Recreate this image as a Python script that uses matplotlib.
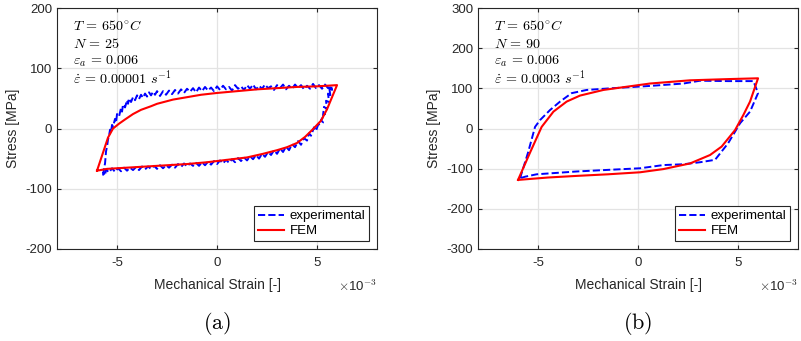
# Stress-strain hysteresis loops, experimental vs FEM
import matplotlib
matplotlib.use("Agg")
import matplotlib.pyplot as plt

plt.rcParams["font.family"] = ["Liberation Sans", "DejaVu Sans"]
plt.rcParams["mathtext.fontset"] = "cm"
plt.rcParams["axes.unicode_minus"] = False

# ---- panel (a): N = 25, strain rate 1e-5 (strain in units of 1e-3) ----
exp_a_strain = [-5.7, -5.65, -5.6, -5.55, -5.5, -5.45, -5.4, -5.35, -5.3, -5.25,
                -5.2, -5.1, -5.05, -5.0, -4.9, -4.8, -4.75, -4.7, -4.6, -4.5,
                -4.45, -4.4, -4.3, -4.2, -4.1, -4.0, -3.9, -3.8, -3.7, -3.6,
                -3.5, -3.4, -3.3, -3.2, -3.1, -3.0,
                -2.85, -2.7, -2.55, -2.4, -2.25, -2.1, -1.95, -1.8, -1.65, -1.5,
                -1.35, -1.2, -1.05, -0.9, -0.75, -0.6, -0.45, -0.3, -0.15, 0.0,
                0.15, 0.3, 0.45, 0.6, 0.75, 0.9, 1.05, 1.2, 1.35, 1.5,
                1.65, 1.8, 1.95, 2.1, 2.25, 2.4, 2.55, 2.7, 2.85, 3.0,
                3.15, 3.3, 3.45, 3.6, 3.75, 3.9, 4.05, 4.2, 4.35, 4.5,
                4.65, 4.8, 4.95, 5.1, 5.25, 5.4, 5.55, 5.7,
                5.75, 5.6, 5.68, 5.55, 5.6, 5.45, 5.5, 5.35, 5.3, 5.4,
                5.2, 5.3, 5.05, 4.95, 4.85, 4.7, 4.6, 4.5, 4.35, 4.2,
                4.05, 3.9, 3.75, 3.6, 3.45, 3.3, 3.15, 3.0, 2.85, 2.7,
                2.55, 2.4, 2.25, 2.1, 1.95, 1.8, 1.65, 1.5, 1.35, 1.2,
                1.05, 0.9, 0.75, 0.6, 0.45, 0.3, 0.15, 0.0, -0.15, -0.3,
                -0.45, -0.6, -0.75, -0.9, -1.05, -1.2, -1.35, -1.5, -1.65, -1.8,
                -1.95, -2.1, -2.25, -2.4, -2.55, -2.7, -2.85, -3.0, -3.15, -3.3,
                -3.45, -3.6, -3.75, -3.9, -4.05, -4.2, -4.35, -4.5, -4.65, -4.8,
                -4.95, -5.1, -5.25, -5.4, -5.55, -5.6, -5.7]
exp_a_stress = [-78, -66, -58, -38, -30, -18, -12, -2, -6, 6,
                3, 16, 10, 24, 20, 34, 28, 40, 35, 47,
                41, 50, 44, 52, 47, 55, 49, 56, 51, 58,
                53, 60, 55, 61, 56, 62,
                54, 62, 56, 63, 57, 64, 58, 65, 59, 66,
                61, 67, 60, 68, 62, 69, 63, 68, 62, 70,
                64, 71, 65, 69, 63, 72, 66, 70, 64, 72,
                66, 73, 65, 71, 66, 73, 67, 70, 64, 72,
                67, 73, 65, 71, 66, 73, 67, 72, 65, 71,
                66, 74, 67, 72, 66, 73, 67, 71,
                64, 70, 52, 58, 44, 46, 32, 36, 22, 24,
                14, 10, 6, -4, 2, -12, -8, -20, -16, -27,
                -21, -31, -26, -36, -30, -39, -33, -42, -36, -44,
                -39, -47, -42, -50, -44, -51, -46, -53, -48, -54,
                -49, -56, -51, -57, -52, -58, -53, -59, -54, -60,
                -55, -61, -56, -62, -57, -62, -58, -63, -58, -64,
                -59, -65, -60, -65, -61, -66, -61, -67, -62, -67,
                -63, -68, -63, -69, -64, -69, -65, -70, -65, -71,
                -66, -72, -66, -73, -68, -78, -72]
fem_a_strain = [-6.0, -5.45, -5.2, -4.9, -4.6, -4.2, -3.8, -3.3, -3.0, -2.2,
                -1.5, -0.8, 0.0, 1.0, 2.0, 3.0, 4.0, 5.0, 6.0,
                5.5, 5.2, 4.8, 4.4, 4.0, 3.5, 3.0, 2.3, 1.5, 0.5,
                -0.5, -1.5, -2.5, -3.5, -4.5, -5.5, -6.0]
fem_a_stress = [-70, -15, 0, 8, 15, 24, 31, 37, 41, 48,
                52, 56, 59, 62, 65, 67, 69, 70, 72,
                32, 13, -1, -14, -24, -31, -36, -42, -48, -52,
                -56, -59, -61, -63, -65, -67, -70]

# ---- panel (b): N = 90, strain rate 3e-4 ----
exp_b_strain = [-5.9, -5.5, -5.15, -4.9, -4.4, -3.9, -3.32, -2.57, -1.4, 0.6,
                2.27, 3.1, 4.5, 5.77, 6.0, 5.6, 5.1, 4.85, 4.5, 3.85,
                3.1, 2.27, 1.27, 0.1, -1.5, -3.07, -5.07, -5.65, -5.9]
exp_b_stress = [-124, -60, 4, 21, 46, 67, 88, 96, 100, 106,
                112, 119, 118, 118, 88, 42, 13, -8, -37, -78,
                -84, -89, -91, -99, -103, -107, -114, -120, -124]
fem_b_strain = [-6.0, -5.4, -4.82, -4.23, -3.57, -2.9, -1.73, -0.57, 0.6, 2.6,
                4.5, 6.0, 5.6, 5.27, 4.85, 4.18, 3.6, 2.6, 1.27, 0.1,
                -1.5, -3.07, -4.5, -6.0]
fem_b_stress = [-128, -60, 4, 42, 67, 82, 96, 104, 112, 120,
                123, 125, 67, 34, -4, -45, -66, -87, -101, -109,
                -114, -118, -122, -128]

notes_a = [r"$T\,=\,650^{\circ}C$", r"$N\,=\,25$", r"$\varepsilon_a\,=\,0.006$",
           r"$\dot{\varepsilon}\,=\,0.00001\ s^{-1}$"]
notes_b = [r"$T\,=\,650^{\circ}C$", r"$N\,=\,90$", r"$\varepsilon_a\,=\,0.006$",
           r"$\dot{\varepsilon}\,=\,0.0003\ s^{-1}$"]

INK = "#262626"


def draw_panel(ax, exp_x, exp_y, fem_x, fem_y, ylim, yticks, notes, tag):
    ax.plot(exp_x, exp_y, "--", color="#0000ff", lw=1.4, label="experimental")
    ax.plot(fem_x, fem_y, "-", color="#ff0000", lw=1.5, label="FEM")
    ax.set_xlim(-8, 8)
    ax.set_ylim(*ylim)
    ax.set_xticks([-5, 0, 5])
    ax.set_yticks(yticks)
    ax.grid(True, color="#e3e3e3", lw=0.9)
    ax.set_axisbelow(True)
    ax.tick_params(direction="in", top=True, right=True, labelsize=9.5,
                   length=3, color=INK, labelcolor=INK)
    ax.tick_params(axis="x", pad=6)
    for s in ax.spines.values():
        s.set_color(INK)
        s.set_linewidth(0.8)
    ax.set_xlabel("Mechanical Strain [-]", fontsize=10, color=INK, labelpad=6)
    ax.set_ylabel("Stress [MPa]", fontsize=10, color=INK)
    ax.text(1.0, -0.125, r"$\times$10$^{-3}$", transform=ax.transAxes,
            ha="right", va="top", fontsize=9.5, color=INK)
    for i, t in enumerate(notes):
        ax.text(0.05, 0.922 - i * 0.071, t, transform=ax.transAxes,
                ha="left", va="center", fontsize=10.2)
    leg = ax.legend(loc="lower right", fontsize=9.5, handlelength=2.0,
                    fancybox=False, framealpha=1, borderpad=0.3,
                    labelspacing=0.2, handletextpad=0.4,
                    borderaxespad=0.6)
    leg.get_frame().set_edgecolor(INK)
    leg.get_frame().set_linewidth(0.8)
    ax.text(0.5, -0.31, r"$\mathrm{(" + tag + ")}$", transform=ax.transAxes,
            ha="center", va="center", fontsize=16)


fig = plt.figure(figsize=(8.01, 3.41), dpi=100)
ax_a = fig.add_axes([0.0712, 0.2698, 0.3995, 0.7067])
ax_b = fig.add_axes([0.5968, 0.2698, 0.3995, 0.7067])

draw_panel(ax_a, exp_a_strain, exp_a_stress, fem_a_strain, fem_a_stress,
           (-200, 200), [-200, -100, 0, 100, 200], notes_a, "a")
draw_panel(ax_b, exp_b_strain, exp_b_stress, fem_b_strain, fem_b_stress,
           (-300, 300), [-300, -200, -100, 0, 100, 200, 300], notes_b, "b")

fig.savefig("out.png", dpi=100)
